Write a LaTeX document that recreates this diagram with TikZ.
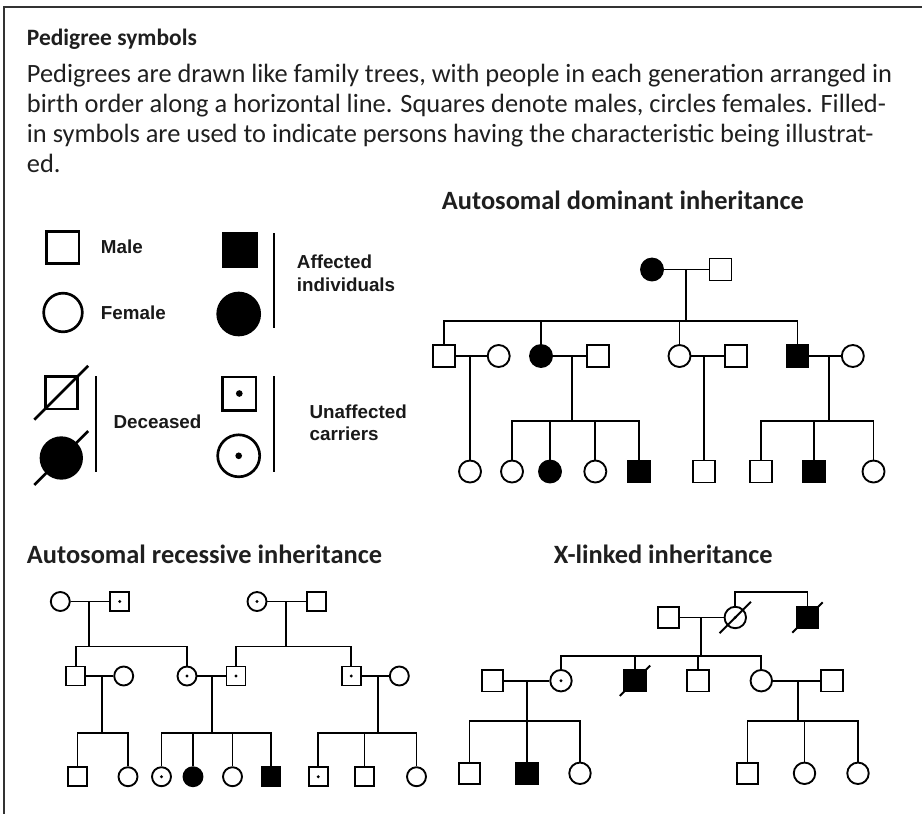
\documentclass[tikz,border=0pt]{standalone}
\usepackage{fontspec}
\setmainfont{Carlito}
\newfontfamily\legendfont{Liberation Sans}
\usetikzlibrary{calc}

\tikzset{
  male/.style={draw, rectangle, inner sep=0pt},
  female/.style={draw, circle, inner sep=0pt},
  affected/.style={fill=black},
  carrier/.style={path picture={\fill (path picture bounding box.center) circle[radius=#1];}},
  carrier/.default=1.2pt,
  bodytext/.style={anchor=base west, inner sep=0pt, text=black!88, font=\fontsize{19.8pt}{22pt}\selectfont},
  headtext/.style={bodytext, font=\fontsize{19.8pt}{22pt}\selectfont\bfseries},
  legendtext/.style={anchor=base west, inner sep=0pt, text=black!90, font=\legendfont\fontsize{14.1pt}{17pt}\selectfont\bfseries},
}

\begin{document}
\begin{tikzpicture}[x=0.75pt,y=0.75pt,yscale=-1,xscale=1,line width=1.4pt]
\useasboundingbox (0,0) rectangle (922,814);

%Frame
\draw [line width=2.2pt, black!80] (4,814) -- (4,7) -- (922,7) ;

% Text Node
\node [headtext, font=\fontsize{17.6pt}{21pt}\selectfont\bfseries] (title) at (26,45) {Pedigree symbols};
\node [bodytext] (line1) at (26,82) {Pedigrees are drawn like family trees, with people in each generation arranged in};
\node [bodytext] (line2) at (26,112) {birth order along a horizontal line. Squares denote males, circles females. Filled-};
\node [bodytext] (line3) at (26,142) {in symbols are used to indicate persons having the characteristic being illustrat-};
\node [bodytext] (line4) at (26,172) {ed.};
\node [headtext] (domhead) at (441,209.3) {Autosomal dominant inheritance};
\node [headtext] (rechead) at (26,563.3) {Autosomal recessive inheritance};
\node [headtext] (xhead) at (553,563.3) {X-linked inheritance};

%Legend
\begin{scope}[line width=2pt]
\node [male, minimum size=24.2pt] (lm) at (62.7,247.5) {};
\node [female, minimum size=29pt] (lf) at (63,312.5) {};
\node [male, affected, minimum size=25pt] (la) at (239.8,249.7) {};
\node [female, affected, minimum size=31.5pt] (lb) at (238.7,314) {};
\node [male, minimum size=24.2pt] (ld) at (61.3,392.8) {};
\node [female, affected, minimum size=30.5pt] (le) at (61.3,458) {};
\node [male, carrier=2.5pt, minimum size=25pt] (lc) at (239.3,393.5) {};
\node [female, carrier=2.5pt, minimum size=31.5pt] (lk) at (238.7,455.8) {};
%Straight Lines
\draw ($(ld.south west)!-0.27!(ld.north east)$) -- ($(ld.south west)!1.27!(ld.north east)$) ;
\draw ($(le.south west)!-0.38!(le.north east)$) -- ($(le.south west)!1.38!(le.north east)$) ;
\draw (274,233.3) -- (274,328.3) ;
\draw (96,376) -- (96,472.3) ;
\draw (274,376) -- (274,472.3) ;
\end{scope}
\node [legendtext] (tmale) at (100,253.3) {Male};
\node [legendtext] (tfemale) at (100,319) {Female};
\node [legendtext] (taff1) at (296,268.3) {Affected};
\node [legendtext] (taff2) at (296,291) {individuals};
\node [legendtext] (tdec) at (112.7,428.3) {Deceased};
\node [legendtext] (tcar1) at (308.7,418.3) {Unaffected};
\node [legendtext] (tcar2) at (308.7,440) {carriers};

%Autosomal dominant
\begin{scope}[nodes={minimum size=16.5pt}]
\node [female, affected] (d1a) at (652,269.5) {};
\node [male] (d1b) at (720.5,269.5) {};
\coordinate (dm1) at (686,269.5);
\coordinate (ds1) at (686,320.7);
\node [male] (d2a) at (444,356) {};
\node [female] (d2b) at (498.7,356) {};
\node [female, affected] (d2c) at (541,356) {};
\node [male] (d2d) at (598,356) {};
\node [female] (d2e) at (679.5,356) {};
\node [male] (d2f) at (736,356) {};
\node [male, affected] (d2g) at (797.5,356) {};
\node [female] (d2h) at (852.8,356) {};
\coordinate (dm2) at (470,356);
\coordinate (dm3) at (572.3,356);
\coordinate (dm4) at (704,356);
\coordinate (dm5) at (828.7,356);
\coordinate (ds3) at (572.3,421);
\coordinate (ds5) at (828.7,421);
\node [female] (d3a) at (470,471.5) {};
\node [female] (d3b) at (512,471.5) {};
\node [female, affected] (d3c) at (550,471.5) {};
\node [female] (d3d) at (595.3,471.5) {};
\node [male, affected] (d3e) at (639.3,471.5) {};
\node [male] (d3f) at (704,471.5) {};
\node [male] (d3g) at (761,471.5) {};
\node [male, affected] (d3h) at (814,471.5) {};
\node [female] (d3i) at (873.5,471.5) {};
\end{scope}
\draw (d1a) -- (d1b) ;
\draw (dm1) -- (ds1) ;
\draw (d2a) |- (ds1) -| (d2g) ;
\draw (d2c) -- (d2c |- ds1) ;
\draw (d2e) -- (d2e |- ds1) ;
\draw (d2a) -- (d2b) ;
\draw (d2c) -- (d2d) ;
\draw (d2e) -- (d2f) ;
\draw (d2g) -- (d2h) ;
\draw (dm2) -- (d3a) ;
\draw (dm3) -- (ds3) ;
\draw (d3b) |- (ds3) -| (d3e) ;
\draw (d3c) -- (d3c |- ds3) ;
\draw (d3d) -- (d3d |- ds3) ;
\draw (dm4) -- (d3f) ;
\draw (dm5) -- (ds5) ;
\draw (d3g) |- (ds5) -| (d3i) ;
\draw (d3h) -- (d3h |- ds5) ;

%Autosomal recessive
\begin{scope}[nodes={minimum size=14.25pt}]
\node [female] (r1a) at (60.3,601.5) {};
\node [male, carrier] (r1b) at (119.7,601.5) {};
\node [female, carrier] (r1c) at (257,601.5) {};
\node [male] (r1d) at (316.3,601.5) {};
\coordinate (rm1) at (89.3,601.5);
\coordinate (rs1) at (89.3,646.5);
\coordinate (rm2) at (285.7,601.5);
\coordinate (rs2) at (285.7,646.5);
\node [male] (r2a) at (75.7,676) {};
\node [female] (r2b) at (123.7,676) {};
\node [female, carrier] (r2c) at (187,676) {};
\node [male, carrier] (r2d) at (236,676) {};
\node [male, carrier] (r2e) at (351.2,676) {};
\node [female] (r2f) at (399.3,676) {};
\coordinate (rm3) at (102.3,676);
\coordinate (rs3) at (102.3,733);
\coordinate (rm4) at (212,676);
\coordinate (rs4) at (212,733);
\coordinate (rm5) at (377.7,676);
\coordinate (rs5) at (377.7,733);
\node [male] (r3a) at (77.5,776.7) {};
\node [female] (r3b) at (128,776.7) {};
\node [female, carrier] (r3c) at (161.5,776.7) {};
\node [female, affected] (r3d) at (193,776.7) {};
\node [female] (r3e) at (232.5,776.7) {};
\node [male, affected] (r3f) at (271,776.7) {};
\node [male, carrier] (r3g) at (318.3,776.7) {};
\node [male] (r3h) at (364.5,776.7) {};
\node [female] (r3i) at (416.5,776.7) {};
\end{scope}
\draw (r1a) -- (r1b) ;
\draw (r1c) -- (r1d) ;
\draw (rm1) -- (rs1) ;
\draw (rm2) -- (rs2) ;
\draw (r2a) |- (rs1) -| (r2c) ;
\draw (r2d) |- (rs2) -| (r2e) ;
\draw (r2a) -- (r2b) ;
\draw (r2c) -- (r2d) ;
\draw (r2e) -- (r2f) ;
\draw (rm3) -- (rs3) ;
\draw (rm4) -- (rs4) ;
\draw (rm5) -- (rs5) ;
\draw (r3a) |- (rs3) -| (r3b) ;
\draw (r3c) |- (rs4) -| (r3f) ;
\draw (r3d) -- (r3d |- rs4) ;
\draw (r3e) -- (r3e |- rs4) ;
\draw (r3g) |- (rs5) -| (r3i) ;
\draw (r3h) -- (r3h |- rs5) ;

%X-linked
\begin{scope}[nodes={minimum size=16.1pt}]
\node [male] (x1a) at (668.3,617.5) {};
\node [female, carrier] (x1b) at (735.3,617.5) {};
\node [male, affected] (x1c) at (807.5,617.5) {};
\coordinate (xb) at (735.3,592.3);
\coordinate (xm1) at (701,617.5);
\coordinate (xs1) at (701,655.7);
\node [male] (x2a) at (492.5,680.7) {};
\node [female, carrier] (x2b) at (561,680.7) {};
\node [male, affected] (x2c) at (635,680.7) {};
\node [male] (x2d) at (698,680.7) {};
\node [female] (x2e) at (761.3,680.7) {};
\node [male] (x2f) at (832,680.7) {};
\coordinate (xm2) at (526.7,680.7);
\coordinate (xs2) at (526.7,720.7);
\coordinate (xm3) at (797.7,680.7);
\coordinate (xs3) at (797.7,720.7);
\node [male] (x3a) at (469.5,773.3) {};
\node [male, affected] (x3b) at (527,773.3) {};
\node [female] (x3c) at (580,773.3) {};
\node [male] (x3d) at (747.5,773.3) {};
\node [female] (x3e) at (804.5,773.3) {};
\node [female] (x3f) at (858,773.3) {};
\end{scope}
\draw (x1b) -- (xb) -| (x1c) ;
\draw (x1a) -- (x1b) ;
\draw (xm1) -- (xs1) ;
\draw (x2b) |- (xs1) -| (x2e) ;
\draw (x2c) -- (x2c |- xs1) ;
\draw (x2d) -- (x2d |- xs1) ;
\draw (x2a) -- (x2b) ;
\draw (x2e) -- (x2f) ;
\draw (xm2) -- (xs2) ;
\draw (xm3) -- (xs3) ;
\draw (x3a) |- (xs2) -| (x3c) ;
\draw (x3b) -- (x3b |- xs2) ;
\draw (x3d) |- (xs3) -| (x3f) ;
\draw (x3e) -- (x3e |- xs3) ;
%Deceased marks
\draw ($(x1b.south west)!-0.45!(x1b.north east)$) -- ($(x1b.south west)!1.45!(x1b.north east)$) ;
\draw ($(x1c.south west)!-0.15!(x1c.north east)$) -- ($(x1c.south west)!1.15!(x1c.north east)$) ;
\draw ($(x2c.south west)!-0.15!(x2c.north east)$) -- ($(x2c.south west)!1.15!(x2c.north east)$) ;
\end{tikzpicture}
\end{document}
